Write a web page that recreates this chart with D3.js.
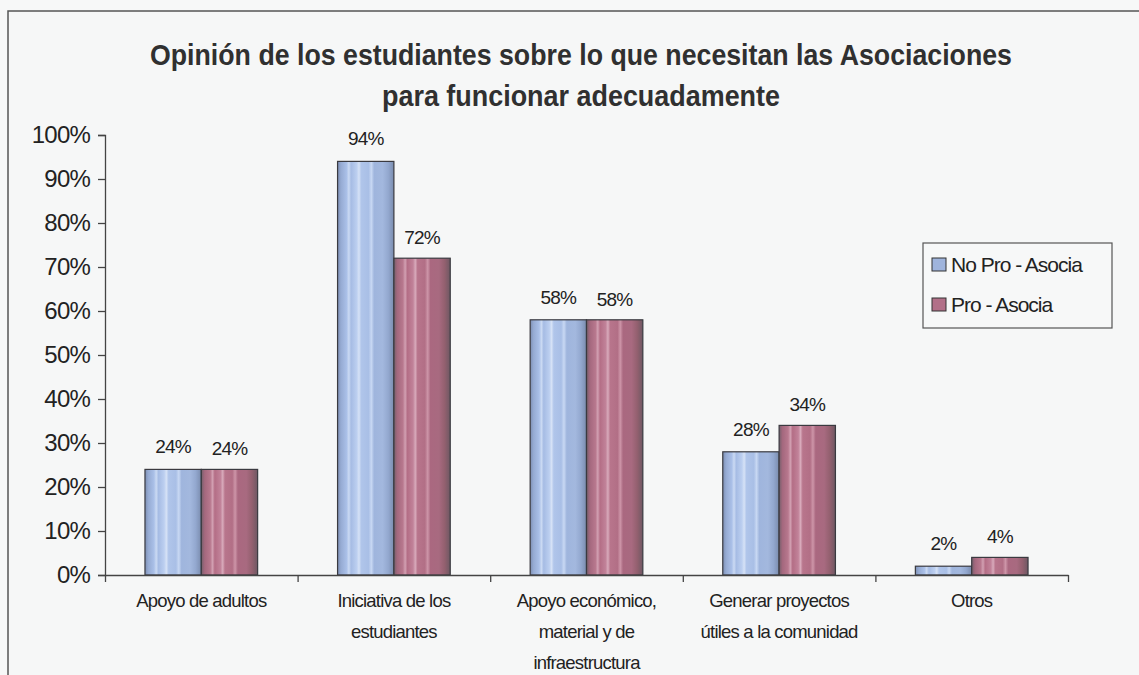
<!DOCTYPE html>
<html>
<head>
<meta charset="utf-8">
<script src="https://cdn.jsdelivr.net/npm/d3@7/dist/d3.min.js"></script>
<style>
  html, body { margin: 0; padding: 0; background: #f7f8f8; }
  svg { display: block; font-family: "Liberation Sans", Arial, sans-serif; }
</style>
</head>
<body>
<svg id="chart" width="1139" height="675"></svg>
<script>
// Survey results: what student associations need to work properly
const categories = [
  ["Apoyo de adultos"],
  ["Iniciativa de los", "estudiantes"],
  ["Apoyo económico,", "material y de", "infraestructura"],
  ["Generar proyectos", "útiles a la comunidad"],
  ["Otros"]
];
const seriesNames = ["No Pro - Asocia", "Pro - Asocia"];
const noProAsocia = [24, 94, 58, 28, 2];
const proAsocia   = [24, 72, 58, 34, 4];
const yTicks = [0, 10, 20, 30, 40, 50, 60, 70, 80, 90, 100];
const titleLines = [
  "Opinión de los estudiantes sobre lo que necesitan las Asociaciones",
  "para funcionar adecuadamente"
];

const seriesValues = [noProAsocia, proAsocia];
const catKeys = categories.map(c => c.join(" "));

const svg = d3.select("#chart");
const defs = svg.append("defs");

// striped, shaded fills for the two series
const fills = [
  { id: "gBlue", stops: [
    [0, "#7d8fb3"], [0.06, "#96abd3"], [0.16, "#aac0e8"], [0.2, "#cbdaf3"], [0.24, "#a6bce4"],
    [0.34, "#bccff0"], [0.38, "#d6e2f6"], [0.42, "#b0c5ea"], [0.55, "#a9bfe6"], [0.6, "#c8d8f3"],
    [0.65, "#9fb5dd"], [0.8, "#a3b8de"], [0.9, "#93a8cf"], [1, "#7a8cae"] ] },
  { id: "gRed", stops: [
    [0, "#75606c"], [0.06, "#a4687e"], [0.16, "#b8788e"], [0.2, "#d2a0b2"], [0.24, "#b46e86"],
    [0.34, "#c18299"], [0.38, "#d8aabb"], [0.42, "#b8758c"], [0.55, "#b26f86"], [0.6, "#cd95a8"],
    [0.65, "#aa6880"], [0.8, "#a86a80"], [0.9, "#93606f"], [1, "#6e5863"] ] }
];
fills.forEach(f => {
  const g = defs.append("linearGradient").attr("id", f.id)
    .attr("x1", "0").attr("x2", "1").attr("y1", "0").attr("y2", "0");
  f.stops.forEach(s => g.append("stop").attr("offset", s[0]).attr("stop-color", s[1]));
});
const swatchColors = ["#9fb4dc", "#b27088"];

// outer frame
svg.append("rect")
  .attr("x", 8).attr("y", 11).attr("width", 1140).attr("height", 680)
  .attr("fill", "#f6f7f7").attr("stroke", "#555").attr("stroke-width", 1.5);

// title
const titleY = [65, 106];
const titleW = [862, 398];
svg.append("g").selectAll("text").data(titleLines).join("text")
  .attr("x", 581).attr("y", (d, i) => titleY[i])
  .attr("text-anchor", "middle")
  .attr("textLength", (d, i) => titleW[i]).attr("lengthAdjust", "spacingAndGlyphs")
  .attr("font-size", 30).attr("font-weight", "bold").attr("fill", "#303030")
  .text(d => d);

// scales
const plot = { left: 105, right: 1068, top: 135, bottom: 575 };
const y = d3.scaleLinear().domain([0, 100]).range([plot.bottom, plot.top]);
const x0 = d3.scaleBand().domain(catKeys).range([plot.left, plot.right])
  .paddingInner(0.415).paddingOuter(0.2075);
const x1 = d3.scaleBand().domain(seriesNames).range([0, x0.bandwidth()]);
const xEdge = d3.scaleLinear().domain([0, categories.length]).range([plot.left, plot.right]);

// y axis
const yAxis = svg.append("g").attr("transform", `translate(${plot.left},0)`)
  .call(d3.axisLeft(y).tickValues(yTicks).tickFormat(d => d + "%").tickSize(7).tickPadding(8));
yAxis.select(".domain").attr("stroke", "#444").attr("stroke-width", 1.3);
yAxis.selectAll(".tick line").attr("stroke", "#444").attr("stroke-width", 1.3);
yAxis.selectAll(".tick text").attr("font-size", 24).attr("fill", "#222")
  .attr("font-family", "Liberation Sans, Arial, sans-serif").attr("letter-spacing", -0.8);

// bars
const groups = svg.append("g").selectAll("g").data(catKeys).join("g")
  .attr("transform", d => `translate(${x0(d)},0)`);
groups.selectAll("rect")
  .data((d, ci) => seriesNames.map((s, si) => ({ s, si, v: seriesValues[si][ci] })))
  .join("rect")
  .attr("x", d => x1(d.s)).attr("width", x1.bandwidth())
  .attr("y", d => y(d.v)).attr("height", d => y(0) - y(d.v))
  .attr("fill", d => `url(#${fills[d.si].id})`)
  .attr("stroke", "#3a3a40").attr("stroke-width", 1.2);

// value labels
const labelGap = [16, 14];
groups.selectAll("text.val")
  .data((d, ci) => seriesNames.map((s, si) => ({ s, si, v: seriesValues[si][ci] })))
  .join("text").attr("class", "val")
  .attr("x", d => x1(d.s) + x1.bandwidth() / 2)
  .attr("y", d => y(d.v) - labelGap[d.si])
  .attr("text-anchor", "middle").attr("font-size", 19).attr("letter-spacing", -0.8)
  .attr("fill", "#222").text(d => d.v + "%");

// x axis with ticks on category boundaries
const xAxis = svg.append("g").attr("transform", `translate(0,${plot.bottom})`)
  .call(d3.axisBottom(xEdge).tickValues(d3.range(categories.length + 1)).tickFormat("").tickSize(7).tickSizeOuter(0));
xAxis.select(".domain").attr("stroke", "#444").attr("stroke-width", 1.3);
xAxis.selectAll(".tick line").attr("stroke", "#444").attr("stroke-width", 1.3);

// category labels
const catLabels = svg.append("g").selectAll("text").data(categories).join("text")
  .attr("x", (d, i) => x0(catKeys[i]) + x0.bandwidth() / 2)
  .attr("y", 607)
  .attr("text-anchor", "middle").attr("font-size", 18.5).attr("letter-spacing", -0.8)
  .attr("fill", "#222");
catLabels.selectAll("tspan").data(d => d).join("tspan")
  .attr("x", function () { return this.parentNode.getAttribute("x"); })
  .attr("dy", (d, i) => i === 0 ? 0 : 31)
  .text(d => d);

// legend
const legend = svg.append("g").attr("transform", "translate(923,243)");
legend.append("rect").attr("width", 189).attr("height", 85)
  .attr("fill", "#f7f8f8").attr("stroke", "#555").attr("stroke-width", 1.2);
const items = legend.selectAll("g").data(seriesNames).join("g")
  .attr("transform", (d, i) => `translate(9,${15 + i * 40})`);
items.append("rect").attr("width", 14).attr("height", 13)
  .attr("fill", (d, i) => swatchColors[i]).attr("stroke", "#333").attr("stroke-width", 1);
items.append("text").attr("x", 19).attr("y", 14)
  .attr("font-size", 21).attr("letter-spacing", -1).attr("fill", "#222").text(d => d);
</script>
</body>
</html>
